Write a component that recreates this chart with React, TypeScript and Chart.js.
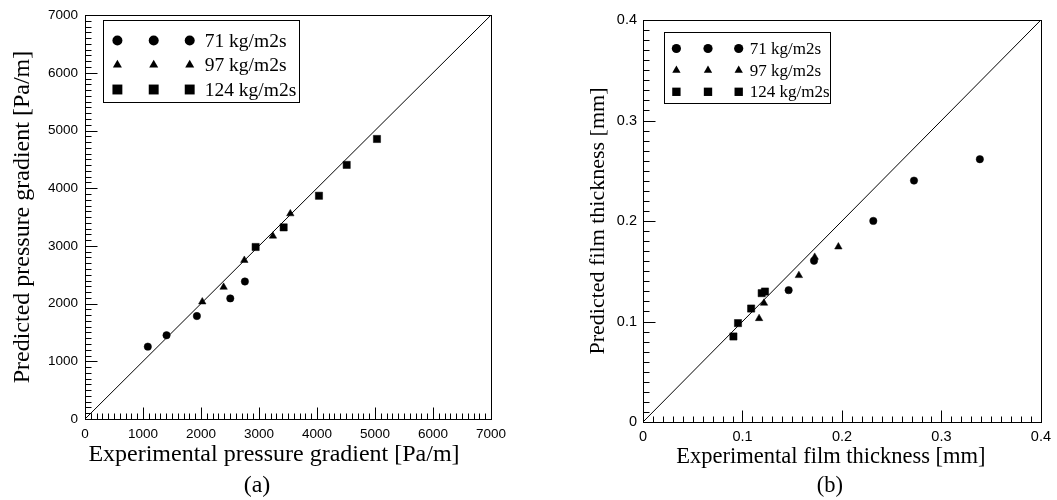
import React, { useEffect, useRef } from "react";
import { Chart, registerables } from "chart.js";

Chart.register(...registerables);

// ---------- Panel (a): pressure gradient [Pa/m] ----------
const pgCircleX = [1083, 1406, 1929, 2505, 2757];
const pgCircleY = [1254, 1451, 1784, 2090, 2383];
const pgTriX = [2022, 2390, 2747, 3240, 3540];
const pgTriY = [2031, 2285, 2751, 3171, 3558];
const pgSqX = [2942, 3425, 4034, 4512, 5034];
const pgSqY = [2981, 3321, 3869, 4404, 4853];
const pgRange = [0, 7000];
const pgMajorStep = 1000;
const pgMinorStep = 100;

// ---------- Panel (b): film thickness [mm] ----------
const ftCircleX = [0.1464, 0.1719, 0.2315, 0.2724, 0.3386];
const ftCircleY = [0.1312, 0.1604, 0.2001, 0.2402, 0.2615];
const ftTriX = [0.1167, 0.1216, 0.1567, 0.1726, 0.1964];
const ftTriY = [0.103, 0.1183, 0.1458, 0.164, 0.1743];
const ftSqX = [0.0909, 0.0955, 0.1087, 0.1193, 0.1226];
const ftSqY = [0.0851, 0.0984, 0.1129, 0.1282, 0.1298];
const ftRange = [0, 0.4];
const ftMajorStep = 0.1;
const ftMinorStep = 0.01;

const seriesLabels = ["71 kg/m2s", "97 kg/m2s", "124 kg/m2s"];
const seriesStyles = ["circle", "triangle", "rect"];

const SERIF = '"Liberation Serif", "Times New Roman", Times, serif';
const SANS = '"Liberation Sans", Arial, Helvetica, sans-serif';

const zip = (xs: number[], ys: number[]) => xs.map((x, i) => ({ x, y: ys[i] }));

function drawMarker(ctx: CanvasRenderingContext2D, style: string, x: number, y: number, r: number) {
  ctx.beginPath();
  if (style === "circle") {
    ctx.arc(x, y, r, 0, Math.PI * 2);
  } else if (style === "triangle") {
    let rad = 0;
    const t = (2 * Math.PI) / 3;
    ctx.moveTo(x + Math.sin(rad) * r, y - Math.cos(rad) * r);
    rad += t;
    ctx.lineTo(x + Math.sin(rad) * r, y - Math.cos(rad) * r);
    rad += t;
    ctx.lineTo(x + Math.sin(rad) * r, y - Math.cos(rad) * r);
    ctx.closePath();
  } else {
    const s = Math.SQRT1_2 * r;
    ctx.rect(x - s, y - s, 2 * s, 2 * s);
  }
  ctx.fill();
}

const frameTicks = {
  id: "frameTicks",
  afterDatasetsDraw(chart: any, _args: any, opts: any) {
    const { ctx, chartArea: a, scales } = chart;
    ctx.save();
    ctx.strokeStyle = "#000";
    ctx.lineWidth = 1;
    ctx.strokeRect(Math.round(a.left) + 0.5, Math.round(a.top) + 0.5, Math.round(a.right - a.left), Math.round(a.bottom - a.top));
    const xs = scales.x;
    const ys = scales.y;
    ctx.beginPath();
    const n = Math.round((xs.max - xs.min) / opts.minor);
    for (let i = 0; i <= n; i++) {
      const v = xs.min + i * opts.minor;
      const len = i % opts.per === 0 ? opts.majorLen : opts.minorLen;
      const px = Math.round(xs.getPixelForValue(v)) + 0.5;
      ctx.moveTo(px, Math.round(a.bottom) + 0.5);
      ctx.lineTo(px, Math.round(a.bottom) + 0.5 - len);
    }
    const m = Math.round((ys.max - ys.min) / opts.minor);
    for (let i = 0; i <= m; i++) {
      const v = ys.min + i * opts.minor;
      const len = i % opts.per === 0 ? opts.majorLen : opts.minorLen;
      const py = Math.round(ys.getPixelForValue(v)) + 0.5;
      ctx.moveTo(Math.round(a.left) + 0.5, py);
      ctx.lineTo(Math.round(a.left) + 0.5 + len, py);
    }
    ctx.stroke();
    ctx.restore();
  },
};

const tripleLegend = {
  id: "tripleLegend",
  afterDraw(chart: any, _args: any, o: any) {
    const { ctx, chartArea: a } = chart;
    const bx = Math.round(a.left + o.dx);
    const by = Math.round(a.top + o.dy);
    ctx.save();
    ctx.fillStyle = "#fff";
    ctx.fillRect(bx, by, o.w, o.h);
    ctx.strokeStyle = "#000";
    ctx.lineWidth = 1;
    ctx.strokeRect(bx + 0.5, by + 0.5, o.w, o.h);
    ctx.fillStyle = "#000";
    ctx.font = `${o.fontSize}px ${SERIF}`;
    ctx.textBaseline = "middle";
    ctx.textAlign = "left";
    o.labels.forEach((lab: string, i: number) => {
      const y = by + o.rows[i];
      o.markerX.forEach((mx: number) => drawMarker(ctx, o.styles[i], bx + mx, y, o.radii[i]));
      ctx.fillText(lab, bx + o.textX, y + 1);
    });
    ctx.restore();
  },
};

// x-axis caption and panel letter, centred relative to the plot area
const captions = {
  id: "captions",
  afterDraw(chart: any, _args: any, o: any) {
    const { ctx, chartArea: a } = chart;
    const cx = (a.left + a.right) / 2;
    ctx.save();
    ctx.fillStyle = "#000";
    ctx.font = `${o.fontSize}px ${SERIF}`;
    ctx.textBaseline = "middle";
    ctx.textAlign = "center";
    o.lines.forEach((ln: any) => ctx.fillText(ln.text, cx + ln.dx, ln.y));
    ctx.restore();
  },
};

function makeDatasets(c: any[], t: any[], s: any[], range: number[], radii: number[]) {
  const pt = (style: string, r: number) => ({
    type: "scatter",
    pointStyle: style,
    pointRadius: r,
    pointHoverRadius: r,
    backgroundColor: "#000",
    borderColor: "#000",
    borderWidth: 0.5,
    showLine: false,
  });
  return [
    {
      type: "line",
      label: "y = x",
      data: [
        { x: range[0], y: range[0] },
        { x: range[1], y: range[1] },
      ],
      borderColor: "#000",
      borderWidth: 1,
      pointRadius: 0,
      fill: false,
    },
    { label: seriesLabels[0], data: c, ...pt("circle", radii[0]) },
    { label: seriesLabels[1], data: t, ...pt("triangle", radii[1]) },
    { label: seriesLabels[2], data: s, ...pt("rect", radii[2]) },
  ];
}

type PanelCfg = {
  width: number;
  datasets: any[];
  range: number[];
  major: number;
  minor: number;
  captions: any;
  yTitle: string;
  titleSize: number;
  yTitlePad: number;
  tickSize: number;
  tickPadX: number;
  tickPadY: number;
  areaLeft: number;
  areaRight: number;
  areaTop: number;
  areaBottom: number;
  fmt: (v: number) => string;
  legend: any;
};

function Panel({ cfg, left }: { cfg: PanelCfg; left: number }) {
  const ref = useRef<HTMLCanvasElement | null>(null);
  useEffect(() => {
    if (!ref.current) return;
    const H = 500;
    const chart = new Chart(ref.current, {
      type: "scatter",
      data: { datasets: cfg.datasets as any },
      plugins: [frameTicks, tripleLegend, captions],
      options: {
        animation: false,
        responsive: false,
        devicePixelRatio: 1,
        layout: { padding: { left: 0, top: cfg.areaTop, right: cfg.width - cfg.areaRight, bottom: 0 } },
        plugins: {
          legend: { display: false },
          tooltip: { enabled: false },
          frameTicks: { minor: cfg.minor, per: Math.round(cfg.major / cfg.minor), majorLen: 12, minorLen: 6 },
          tripleLegend: cfg.legend,
          captions: cfg.captions,
        } as any,
        scales: {
          x: {
            type: "linear",
            min: cfg.range[0],
            max: cfg.range[1],
            grid: { display: false, drawTicks: false },
            border: { display: false },
            ticks: {
              stepSize: cfg.major,
              padding: cfg.tickPadX,
              color: "#000",
              font: { family: SANS, size: cfg.tickSize },
              maxRotation: 0,
              callback: (v: any) => cfg.fmt(Number(v)),
            },
            title: { display: false },
            afterFit: (s: any) => {
              s.height = H - cfg.areaBottom;
            },
          },
          y: {
            type: "linear",
            min: cfg.range[0],
            max: cfg.range[1],
            grid: { display: false, drawTicks: false },
            border: { display: false },
            ticks: {
              stepSize: cfg.major,
              padding: cfg.tickPadY,
              color: "#000",
              font: { family: SANS, size: cfg.tickSize },
              callback: (v: any) => cfg.fmt(Number(v)),
            },
            title: {
              display: true,
              text: cfg.yTitle,
              color: "#000",
              font: { family: SERIF, size: cfg.titleSize, lineHeight: 1.2 },
              padding: { top: cfg.yTitlePad, bottom: 0 },
            },
            afterFit: (s: any) => {
              s.width = cfg.areaLeft;
            },
          },
        },
      } as any,
    });
    return () => chart.destroy();
  }, []);
  return (
    <div style={{ position: "absolute", left, top: 0, width: cfg.width, height: 500 }}>
      <canvas ref={ref} width={cfg.width} height={500} style={{ display: "block" }} />
    </div>
  );
}

const panelA: PanelCfg = {
  width: 528,
  datasets: makeDatasets(zip(pgCircleX, pgCircleY), zip(pgTriX, pgTriY), zip(pgSqX, pgSqY), pgRange, [3.7, 4.3, 5.1]),
  range: pgRange,
  major: pgMajorStep,
  minor: pgMinorStep,
  captions: {
    fontSize: 24,
    lines: [
      { text: "Experimental pressure gradient [Pa/m]", dx: -14, y: 455 },
      { text: "(a)", dx: -31, y: 486 },
    ],
  },
  yTitle: "Predicted pressure gradient [Pa/m]",
  titleSize: 24,
  yTitlePad: 8,
  tickSize: 13.5,
  tickPadX: 7,
  tickPadY: 7,
  areaLeft: 85,
  areaRight: 491,
  areaTop: 14,
  areaBottom: 419,
  fmt: (v) => String(Math.round(v)),
  legend: {
    dx: 18,
    dy: 5,
    w: 196,
    h: 82,
    rows: [20.5, 45, 69.5],
    markerX: [14.4, 50.7, 86.7],
    textX: 101.7,
    fontSize: 19.5,
    radii: [5, 5.2, 7],
    styles: seriesStyles,
    labels: seriesLabels,
  },
};

const panelB: PanelCfg = {
  width: 529,
  datasets: makeDatasets(zip(ftCircleX, ftCircleY), zip(ftTriX, ftTriY), zip(ftSqX, ftSqY), ftRange, [3.7, 4.3, 5.1]),
  range: ftRange,
  major: ftMajorStep,
  minor: ftMinorStep,
  captions: {
    fontSize: 22.5,
    lines: [
      { text: "Experimental film thickness [mm]", dx: -11, y: 457 },
      { text: "(b)", dx: -12, y: 486 },
    ],
  },
  yTitle: "Predicted film thickness [mm]",
  titleSize: 22,
  yTitlePad: 57,
  tickSize: 14.5,
  tickPadX: 6,
  tickPadY: 6,
  areaLeft: 115,
  areaRight: 518,
  areaTop: 20,
  areaBottom: 422,
  fmt: (v) => (Math.abs(v) < 1e-9 ? "0" : String(Math.round(v * 10) / 10)),
  legend: {
    dx: 21,
    dy: 12,
    w: 166,
    h: 71,
    rows: [16.5, 38.3, 59.8],
    markerX: [12.4, 44, 74.7],
    textX: 85.7,
    fontSize: 17,
    radii: [4.6, 4.8, 5.9],
    styles: seriesStyles,
    labels: seriesLabels,
  },
};

export default function App() {
  return (
    <div style={{ position: "absolute", left: 0, top: 0, width: 1057, height: 500, background: "#fff" }}>
      <Panel cfg={panelA} left={0} />
      <Panel cfg={panelB} left={528} />
    </div>
  );
}
